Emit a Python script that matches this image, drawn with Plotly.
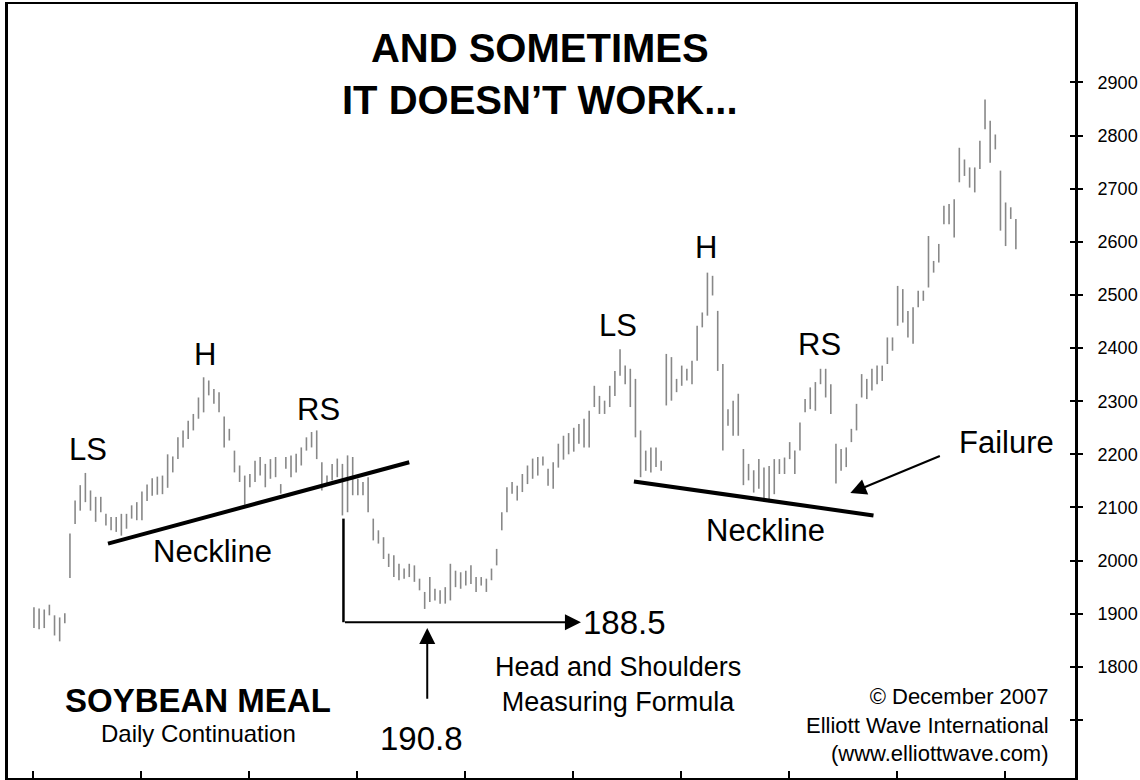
import plotly.graph_objects as go

# Soybean meal daily continuation: daily high / low per session (price x 10)
highs = [
    1912, 1910, 1908, 1917, 1897, 1893, 1901, 2051, 2113, 2142,
    2165, 2132, 2120, 2120, 2088, 2082, 2082, 2088, 2088, 2104,
    2110, 2130, 2143, 2155, 2158, 2160, 2200, 2196, 2232, 2245,
    2263, 2276, 2307, 2345, 2339, 2323, 2317, 2271, 2248, 2207,
    2179, 2160, 2163, 2188, 2195, 2182, 2191, 2195, 2144, 2195,
    2198, 2201, 2213, 2232, 2242, 2245, 2185, 2160, 2182, 2192,
    2182, 2198, 2195, 2154, 2148, 2157, 2079, 2057, 2044, 2013,
    2010, 1994, 1985, 1994, 1991, 1966, 1941, 1969, 1947, 1944,
    1950, 1994, 1981, 1978, 1981, 1991, 1969, 1969, 1966, 1985,
    2022, 2091, 2138, 2148, 2141, 2163, 2179, 2192, 2195, 2196,
    2173, 2185, 2220, 2235, 2240, 2250, 2257, 2267, 2282, 2329,
    2310, 2301, 2329, 2357, 2398, 2367, 2361, 2342, 2245, 2207,
    2213, 2213, 2188, 2389, 2383, 2342, 2367, 2361, 2376, 2442,
    2467, 2542, 2536, 2470, 2370, 2285, 2301, 2314, 2210, 2182,
    2170, 2191, 2175, 2178, 2191, 2191, 2194, 2223, 2207, 2260,
    2304, 2326, 2336, 2361, 2361, 2332, 2220, 2210, 2213, 2248,
    2295, 2351, 2342, 2361, 2367, 2367, 2420, 2420, 2517, 2511,
    2470, 2477, 2508, 2508, 2611, 2564, 2596, 2668, 2671, 2680,
    2777, 2755, 2740, 2740, 2790, 2868, 2828, 2802, 2734, 2674,
    2665, 2643,
]
lows = [
    1873, 1871, 1873, 1897, 1859, 1848, 1882, 1967, 2069, 2094,
    2110, 2094, 2073, 2091, 2066, 2057, 2054, 2047, 2060, 2079,
    2076, 2076, 2112, 2122, 2124, 2125, 2137, 2166, 2191, 2213,
    2229, 2245, 2267, 2279, 2311, 2295, 2279, 2213, 2226, 2166,
    2148, 2105, 2138, 2148, 2160, 2138, 2154, 2157, 2126, 2173,
    2157, 2166, 2179, 2207, 2213, 2191, 2132, 2141, 2151, 2157,
    2085, 2091, 2123, 2123, 2123, 2091, 2038, 2032, 2003, 1988,
    1969, 1963, 1966, 1969, 1960, 1944, 1909, 1922, 1925, 1919,
    1919, 1925, 1950, 1947, 1953, 1956, 1941, 1953, 1941, 1963,
    1991, 2057, 2091, 2126, 2113, 2129, 2144, 2154, 2160, 2179,
    2141, 2135, 2175, 2190, 2200, 2205, 2220, 2213, 2213, 2289,
    2276, 2276, 2289, 2310, 2348, 2332, 2289, 2232, 2157, 2169,
    2166, 2176, 2169, 2292, 2301, 2317, 2329, 2339, 2332, 2376,
    2439, 2461, 2499, 2357, 2207, 2254, 2235, 2235, 2142, 2151,
    2128, 2135, 2116, 2110, 2125, 2163, 2163, 2191, 2163, 2207,
    2279, 2285, 2282, 2332, 2307, 2276, 2145, 2169, 2176, 2223,
    2245, 2307, 2304, 2320, 2332, 2338, 2370, 2395, 2442, 2448,
    2420, 2408, 2477, 2489, 2514, 2542, 2561, 2633, 2633, 2608,
    2712, 2724, 2702, 2693, 2737, 2812, 2749, 2774, 2621, 2592,
    2643, 2586,
]
sessions = list(range(len(highs)))

price_ticks = [1700, 1800, 1900, 2000, 2100, 2200, 2300, 2400, 2500, 2600, 2700, 2800, 2900]
price_tick_text = [""] + [str(v) for v in price_ticks[1:]]

# Pattern lines drawn on the chart (session index, price)
neckline_left = [(14.4, 2032), (73.0, 2185)]
neckline_right = [(116.7, 2149), (163.3, 2085)]
measure_start = (60.2, 2079)
measure_corner = (60.2, 1884)
measure_end = (106.4, 1884)
target_arrow = [(76.5, 1737), (76.5, 1873)]
failure_arrow = [(176.5, 2198), (158.8, 2127)]

FONT = "Liberation Sans, Arial, Helvetica, sans-serif"
X_RANGE = [-5.05, 202.5]
Y_RANGE = [1590.8, 3047.6]

# Vertical high-low bars, one segment per session
seg_x, seg_y = [], []
for s, hi, lo in zip(sessions, highs, lows):
    seg_x += [s, s, None]
    seg_y += [lo, hi, None]

fig = go.Figure()
fig.add_trace(go.Scatter(
    x=seg_x, y=seg_y, mode="lines",
    line=dict(color="#888888", width=1.6),
    hoverinfo="skip", showlegend=False,
))
# Companion trace so the inner tick axis is rendered
fig.add_trace(go.Scatter(
    x=[sessions[0]], y=[lows[0]], yaxis="y2", mode="markers",
    marker=dict(opacity=0), hoverinfo="skip", showlegend=False,
))

fig.add_shape(type="line", x0=neckline_left[0][0], y0=neckline_left[0][1],
              x1=neckline_left[1][0], y1=neckline_left[1][1],
              line=dict(color="black", width=4))
fig.add_shape(type="line", x0=neckline_right[0][0], y0=neckline_right[0][1],
              x1=neckline_right[1][0], y1=neckline_right[1][1],
              line=dict(color="black", width=4))
fig.add_shape(type="line", x0=measure_start[0], y0=measure_start[1],
              x1=measure_corner[0], y1=measure_corner[1],
              line=dict(color="black", width=2.5))

arrow_style = dict(showarrow=True, arrowhead=2, arrowsize=1.6, arrowwidth=2,
                   arrowcolor="black", axref="x", ayref="y", xref="x", yref="y",
                   text="", standoff=0, startstandoff=0)
fig.add_annotation(x=measure_end[0], y=measure_end[1],
                   ax=measure_corner[0], ay=measure_corner[1], **arrow_style)
fig.add_annotation(x=target_arrow[1][0], y=target_arrow[1][1],
                   ax=target_arrow[0][0], ay=target_arrow[0][1], **arrow_style)
fig.add_annotation(x=failure_arrow[1][0], y=failure_arrow[1][1],
                   ax=failure_arrow[0][0], ay=failure_arrow[0][1], **arrow_style)

def label(text, x, y, size, bold=False, xanchor="center", align="center"):
    fig.add_annotation(
        x=x, y=y, xref="x", yref="y", text=text, showarrow=False,
        xanchor=xanchor, yanchor="middle", align=align,
        font=dict(family=FONT, size=size, color="black",
                  weight="bold" if bold else "normal"),
    )

label("AND SOMETIMES<br>IT DOESN\u2019T WORK...", 98.4, 2916, 40, bold=True)
label("LS", 10.5, 2209, 31)
label("H", 33.2, 2388, 31)
label("RS", 55.3, 2284, 31)
label("Neckline", 34.8, 2017, 31)
label("LS", 113.6, 2442, 31)
label("H", 130.7, 2589, 31)
label("RS", 152.8, 2407, 31)
label("Failure", 189.1, 2222, 31)
label("Neckline", 142.3, 2057, 31)
label("188.5", 114.8, 1884, 33)
label("190.8", 75.3, 1666, 33)
label("Head and Shoulders<br>Measuring Formula", 113.6, 1767, 27)
label("SOYBEAN MEAL", 32.0, 1737, 33, bold=True)
label("Daily Continuation", 32.0, 1674, 24)
label("\u00a9 December 2007<br>Elliott Wave International<br>(www.elliottwave.com)",
      197.9, 1690, 22, xanchor="right", align="right")

fig.update_layout(
    width=1140, height=780,
    margin=dict(l=8, r=63, t=3, b=2),
    paper_bgcolor="white", plot_bgcolor="white",
    showlegend=False,
    xaxis=dict(
        range=X_RANGE, showgrid=False, zeroline=False,
        showline=True, linecolor="black", linewidth=2, mirror=True,
        ticks="inside", ticklen=7, tickwidth=1.5, tickcolor="black",
        tick0=-0.2, dtick=21, showticklabels=False,
    ),
    yaxis=dict(
        range=Y_RANGE, side="right", showgrid=False, zeroline=False,
        showline=True, linecolor="black", linewidth=3, mirror=True,
        ticks="outside", ticklen=5, tickwidth=2, tickcolor="black",
        tickvals=price_ticks, ticktext=price_tick_text,
        tickfont=dict(family=FONT, size=18, color="black"),
        ticklabelstandoff=11,
    ),
    yaxis2=dict(
        range=Y_RANGE, overlaying="y", side="right", showgrid=False,
        zeroline=False, showline=False,
        ticks="inside", ticklen=5, tickwidth=2, tickcolor="black",
        tickvals=price_ticks, showticklabels=False,
    ),
)

fig.write_html("out.html")
